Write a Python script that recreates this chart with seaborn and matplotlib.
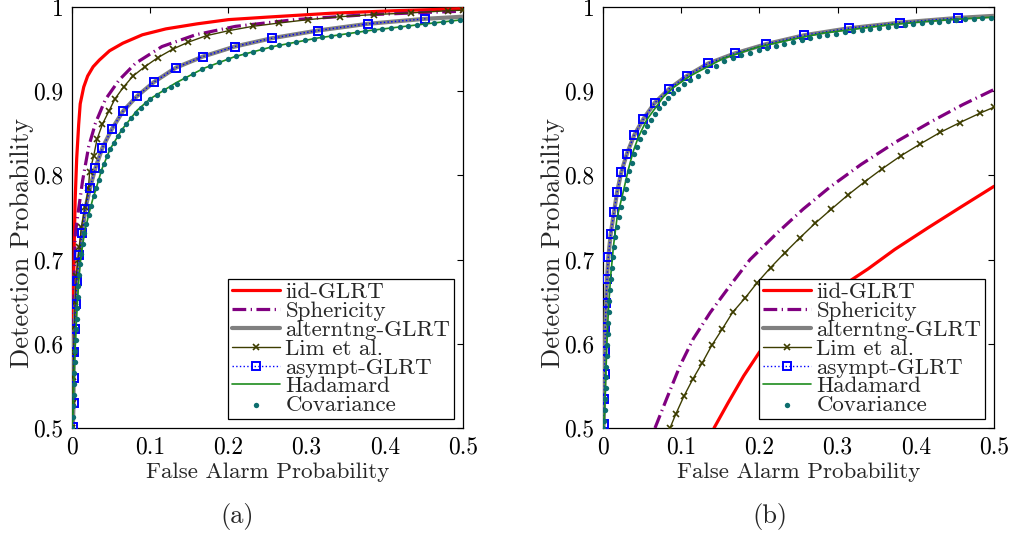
import numpy as np
import pandas as pd
import matplotlib
matplotlib.use("Agg")
import matplotlib.pyplot as plt
import seaborn as sns

# ---------------- data ----------------
xtick_vals = [0, 0.1, 0.2, 0.3, 0.4, 0.5]
xtick_labels = ["0", "0.1", "0.2", "0.3", "0.4", "0.5"]
ytick_vals = [0.5, 0.6, 0.7, 0.8, 0.9, 1.0]
ytick_labels = ["0.5", "0.6", "0.7", "0.8", "0.9", "1"]
series_names = ["iid-GLRT", "Sphericity", "alterntng-GLRT", "Lim et al.",
                "asympt-GLRT", "Hadamard", "Covariance"]

# ---- panel (a) ----
iid_a_x = [0, 0.0005, 0.0013, 0.0025, 0.004, 0.006, 0.0085, 0.0105, 0.015, 0.02, 0.027,
           0.035, 0.048, 0.065, 0.09, 0.12, 0.16, 0.2, 0.25, 0.33, 0.41, 0.5]
iid_a_y = [0.5, 0.56, 0.62, 0.70, 0.77, 0.82, 0.86, 0.885, 0.905, 0.918, 0.929,
           0.937, 0.948, 0.957, 0.967, 0.974, 0.980, 0.985, 0.988, 0.9925, 0.9955, 0.998]

sph_a_x = [0, 0.001, 0.002, 0.003, 0.0043, 0.0077, 0.0136, 0.0213, 0.030, 0.0426, 0.060,
           0.081, 0.115, 0.158, 0.209, 0.285, 0.371, 0.456, 0.5]
sph_a_y = [0.5, 0.58, 0.64, 0.69, 0.731, 0.755, 0.794, 0.834, 0.862, 0.890, 0.913,
           0.933, 0.953, 0.967, 0.977, 0.985, 0.9905, 0.9937, 0.995]

asy_a_x = [0.001, 0.002, 0.002, 0.002, 0.0034, 0.0047, 0.0064, 0.0094, 0.0132, 0.017, 0.023,
           0.030, 0.039, 0.051, 0.065, 0.083, 0.105, 0.133, 0.167, 0.208, 0.256, 0.314,
           0.378, 0.452]
asy_a_y = [0.5006, 0.530, 0.559, 0.590, 0.618, 0.647, 0.675, 0.705, 0.732, 0.760, 0.785,
           0.809, 0.833, 0.855, 0.876, 0.894, 0.911, 0.928, 0.941, 0.953, 0.963, 0.972,
           0.980, 0.986]

alt_a_x = [0] + asy_a_x + [0.5]
alt_a_y = [0.5] + asy_a_y + [0.9885]

lim_a_x = [0, 0.0005, 0.001, 0.0015, 0.002, 0.003, 0.004, 0.0055, 0.0075, 0.0094, 0.012,
           0.017, 0.021, 0.0226, 0.0277, 0.032, 0.039, 0.047, 0.055, 0.066, 0.078, 0.093,
           0.110, 0.129, 0.148, 0.172, 0.201, 0.231, 0.265, 0.302, 0.343, 0.386, 0.433,
           0.481, 0.5]
lim_a_y = [0.5, 0.5, 0.53, 0.56, 0.59, 0.62, 0.65, 0.68, 0.70, 0.715, 0.739,
           0.763, 0.785, 0.804, 0.823, 0.843, 0.861, 0.876, 0.891, 0.905, 0.918, 0.929,
           0.940, 0.950, 0.958, 0.966, 0.972, 0.977, 0.981, 0.985, 0.9885, 0.991, 0.993,
           0.9956, 0.9962]

had_a_x = [0, 0.001, 0.002, 0.003, 0.004, 0.006, 0.0085, 0.0105, 0.0128, 0.016, 0.021,
           0.026, 0.031, 0.038, 0.0486, 0.0635, 0.083, 0.1, 0.133, 0.168, 0.208, 0.257,
           0.313, 0.38, 0.453, 0.5]
had_a_y = [0.5, 0.51, 0.54, 0.57, 0.594, 0.635, 0.673, 0.695, 0.712, 0.732, 0.752,
           0.77, 0.785, 0.807, 0.831, 0.854, 0.877, 0.891, 0.910, 0.927, 0.941, 0.953,
           0.963, 0.972, 0.980, 0.985]

cov_a_x = [0.0003, 0.0011, 0.0016, 0.0020, 0.0024, 0.0028, 0.0033, 0.0039, 0.0046, 0.0052,
           0.0058, 0.0066, 0.0074, 0.0083, 0.0093, 0.0105, 0.0121, 0.0140, 0.0158, 0.0183,
           0.0212, 0.0243, 0.0276, 0.031, 0.0345, 0.0372, 0.041, 0.045, 0.0486, 0.054,
           0.059, 0.0635, 0.069, 0.075, 0.0815, 0.088, 0.095, 0.1, 0.109, 0.118, 0.126,
           0.134, 0.144, 0.155, 0.166, 0.177, 0.188, 0.199, 0.210, 0.221, 0.232, 0.243,
           0.254, 0.265, 0.276, 0.287, 0.298, 0.309, 0.320, 0.331, 0.342, 0.353, 0.364,
           0.375, 0.386, 0.397, 0.408, 0.419, 0.430, 0.441, 0.452, 0.463, 0.474, 0.485,
           0.496]
cov_a_y = [0.500, 0.513, 0.526, 0.539, 0.552, 0.565, 0.578, 0.591, 0.604, 0.617,
           0.630, 0.643, 0.656, 0.669, 0.682, 0.695, 0.707, 0.719, 0.731, 0.742,
           0.753, 0.764, 0.775, 0.785, 0.795, 0.805, 0.814, 0.823, 0.831, 0.839,
           0.847, 0.854, 0.861, 0.868, 0.874, 0.880, 0.886, 0.891, 0.896, 0.901, 0.905,
           0.909, 0.9155, 0.921, 0.926, 0.9305, 0.9345, 0.938, 0.9415, 0.9445, 0.947, 0.950,
           0.9525, 0.9545, 0.9565, 0.9585, 0.9605, 0.9625, 0.964, 0.9655, 0.967, 0.9685, 0.970,
           0.9713, 0.9726, 0.9738, 0.975, 0.9762, 0.9774, 0.9786, 0.9798, 0.981, 0.9822, 0.9834,
           0.9846]

# ---- panel (b) ----
iid_b_x = [0.142, 0.16, 0.18, 0.20, 0.22, 0.26, 0.30, 0.339, 0.373, 0.416, 0.4586, 0.5]
iid_b_y = [0.5, 0.53, 0.562, 0.59, 0.612, 0.64, 0.665, 0.689, 0.712, 0.738, 0.763, 0.787]

sph_b_x = [0.0665, 0.0815, 0.0985, 0.1155, 0.137, 0.1624, 0.188, 0.222, 0.256, 0.29,
           0.33, 0.375, 0.42, 0.46, 0.5]
sph_b_y = [0.5, 0.535, 0.574, 0.606, 0.637, 0.669, 0.70, 0.731, 0.760, 0.786,
           0.813, 0.840, 0.864, 0.884, 0.902]

asy_b_x = [0.001, 0.0013, 0.002, 0.0026, 0.003, 0.0038, 0.0051, 0.0068, 0.0098, 0.014,
           0.018, 0.0234, 0.0307, 0.040, 0.0516, 0.066, 0.0844, 0.107, 0.1347, 0.169,
           0.209, 0.2575, 0.3146, 0.380, 0.4535]
asy_b_y = [0.5053, 0.535, 0.5637, 0.592, 0.620, 0.649, 0.677, 0.703, 0.730, 0.756,
           0.780, 0.804, 0.826, 0.848, 0.867, 0.886, 0.9026, 0.918, 0.933, 0.945,
           0.956, 0.9665, 0.9748, 0.9815, 0.987]

alt_b_x = [0] + asy_b_x + [0.5]
alt_b_y = [0.5] + asy_b_y + [0.9895]

lim_b_x = [0.0857, 0.0934, 0.1036, 0.1151, 0.127, 0.139, 0.1526, 0.1658, 0.1816, 0.1974,
           0.2144, 0.2327, 0.2519, 0.2711, 0.2916, 0.3129, 0.335, 0.3572, 0.3811, 0.4054,
           0.431, 0.4565, 0.482, 0.5]
lim_b_y = [0.5, 0.5172, 0.538, 0.5585, 0.5775, 0.598, 0.6177, 0.6374, 0.6543, 0.6728,
           0.6906, 0.7083, 0.726, 0.743, 0.7596, 0.7765, 0.7927, 0.808, 0.8234, 0.8372,
           0.851, 0.8628, 0.8739, 0.881]

had_b_x = [0, 0.001, 0.002, 0.0035, 0.005, 0.007, 0.0098, 0.0135, 0.018, 0.026, 0.0324,
           0.0388, 0.045, 0.0559, 0.0771, 0.091, 0.1113, 0.154, 0.1965, 0.239, 0.2817,
           0.3244, 0.367, 0.4096, 0.4523, 0.5]
had_b_y = [0.5, 0.507, 0.52, 0.56, 0.60, 0.642, 0.68, 0.717, 0.75, 0.781, 0.807,
           0.829, 0.845, 0.866, 0.893, 0.905, 0.918, 0.939, 0.952, 0.961, 0.969,
           0.974, 0.979, 0.9825, 0.9855, 0.988]

cov_b_x = [0.0003, 0.0012, 0.0022, 0.0027, 0.0032, 0.0037, 0.0042, 0.0047, 0.0053, 0.0059,
           0.0065, 0.0072, 0.0081, 0.0091, 0.0102, 0.0115, 0.0128, 0.0142, 0.0158, 0.0176,
           0.0199, 0.0225, 0.026, 0.0288, 0.0312, 0.0338, 0.0366, 0.0396, 0.0432, 0.0476,
           0.0518, 0.0559, 0.061, 0.0665, 0.072, 0.0776, 0.0835, 0.0895, 0.0965, 0.1035,
           0.1113, 0.122, 0.133, 0.144, 0.155, 0.166, 0.177, 0.188, 0.199, 0.210, 0.221,
           0.232, 0.243, 0.254, 0.265, 0.276, 0.287, 0.298, 0.309, 0.320, 0.331, 0.342,
           0.353, 0.364, 0.375, 0.386, 0.397, 0.408, 0.419, 0.430, 0.441, 0.452, 0.463,
           0.474, 0.485, 0.496]
cov_b_y = [0.500, 0.508, 0.521, 0.534, 0.547, 0.560, 0.573, 0.586, 0.599, 0.612,
           0.625, 0.638, 0.651, 0.664, 0.677, 0.690, 0.703, 0.715, 0.727, 0.739,
           0.751, 0.762, 0.773, 0.784, 0.795, 0.805, 0.815, 0.825, 0.834, 0.843,
           0.851, 0.859, 0.866, 0.873, 0.880, 0.886, 0.892, 0.898, 0.903, 0.908,
           0.913, 0.9185, 0.924, 0.930, 0.9353, 0.939, 0.9425, 0.9455, 0.9485, 0.951, 0.9535,
           0.9563, 0.9588, 0.961, 0.963, 0.965, 0.9668, 0.9685, 0.970, 0.9715, 0.973, 0.974,
           0.9753, 0.9766, 0.9778, 0.979, 0.980, 0.981, 0.9818, 0.9826, 0.9835, 0.9845, 0.9853,
           0.986, 0.9867, 0.9872]

panels = {
    "a": dict(iid=(iid_a_x, iid_a_y), sph=(sph_a_x, sph_a_y), alt=(alt_a_x, alt_a_y),
              lim=(lim_a_x, lim_a_y), asy=(asy_a_x, asy_a_y), had=(had_a_x, had_a_y),
              cov=(cov_a_x, cov_a_y)),
    "b": dict(iid=(iid_b_x, iid_b_y), sph=(sph_b_x, sph_b_y), alt=(alt_b_x, alt_b_y),
              lim=(lim_b_x, lim_b_y), asy=(asy_b_x, asy_b_y), had=(had_b_x, had_b_y),
              cov=(cov_b_x, cov_b_y)),
}

# ---------------- styling ----------------
sns.set_style("white")
plt.rcParams["font.family"] = ["cmr10", "DejaVu Serif"]
plt.rcParams["mathtext.fontset"] = "cm"
plt.rcParams["axes.formatter.use_mathtext"] = True
plt.rcParams["axes.unicode_minus"] = False

W, H = 1011, 535
fig = plt.figure(figsize=(W / 100, H / 100), dpi=100)
fig.patch.set_facecolor("white")
axA = fig.add_axes([72 / W, 107 / H, 391 / W, 421 / H])
axB = fig.add_axes([603 / W, 107 / H, 391 / W, 421 / H])


def add_line(ax, xy, label, **style):
    n0 = len(ax.lines)
    sns.lineplot(x=xy[0], y=xy[1], ax=ax, sort=False, estimator=None, label=label)
    line = ax.lines[n0]
    line.set(**style)
    return line


def draw(ax, d):
    add_line(ax, d["iid"], series_names[0], color="#ff0000", linewidth=2.3,
             linestyle="-", zorder=3)
    ln = add_line(ax, d["sph"], series_names[1], color="#800080", linewidth=2.3, zorder=3)
    ln.set_dashes([4.3, 1.4, 0.4, 1.4])
    add_line(ax, d["alt"], series_names[2], color="#808080", linewidth=3.0,
             linestyle="-", zorder=3)
    add_line(ax, d["lim"], series_names[3], color="#3d3d00", linewidth=1.0,
             linestyle="-", marker="x", markersize=5, markeredgewidth=1.2,
             markeredgecolor="#3d3d00", zorder=4)
    add_line(ax, d["asy"], series_names[4], color="#0000ff", linewidth=1.0,
             linestyle=":", marker="s", markersize=5.5, markerfacecolor="none",
             markeredgecolor="#0000ff", markeredgewidth=1.4, zorder=5)
    add_line(ax, d["had"], series_names[5], color="#1e8c1e", linewidth=1.2,
             linestyle="-", zorder=5)
    sns.scatterplot(x=d["cov"][0], y=d["cov"][1], ax=ax, color="#0d6e6e",
                    s=15, linewidth=0, label=series_names[6], zorder=6)

    ax.set_xlim(0, 0.5)
    ax.set_ylim(0.5, 1.0)
    ax.set_xticks(xtick_vals)
    ax.set_xticklabels(xtick_labels)
    ax.set_yticks(ytick_vals)
    ax.set_yticklabels(ytick_labels)
    ax.tick_params(direction="in", top=True, right=True, length=4, width=0.8,
                   labelsize=17, pad=6, colors="black")
    for sp in ax.spines.values():
        sp.set_visible(True)
        sp.set_color("black")
        sp.set_linewidth(0.9)
    ax.set_xlabel("False Alarm Probability", fontsize=16.6)
    ax.set_ylabel("Detection Probability", fontsize=19)
    ax.xaxis.set_label_coords(0.5, -0.083)
    ax.yaxis.set_label_coords(-0.098, 0.44)

    handles, labels = ax.get_legend_handles_labels()
    order = [labels.index(n) for n in series_names]
    leg = ax.legend([handles[i] for i in order], [labels[i] for i in order],
                    loc="lower right", fontsize=16.5, frameon=True, fancybox=False,
                    edgecolor="black", framealpha=1, borderpad=0.15, labelspacing=-0.05,
                    handlelength=2.1, handletextpad=0.25, borderaxespad=0.4,
                    scatterpoints=1, numpoints=1)
    leg.get_frame().set_linewidth(0.9)
    leg.set_zorder(10)


draw(axA, panels["a"])
draw(axB, panels["b"])

fig.text(237 / W, 1 - 516 / H, "(a)", ha="center", va="center", fontsize=19)
fig.text(770 / W, 1 - 516 / H, "(b)", ha="center", va="center", fontsize=19)

fig.savefig("out.png", dpi=100, facecolor="white")
